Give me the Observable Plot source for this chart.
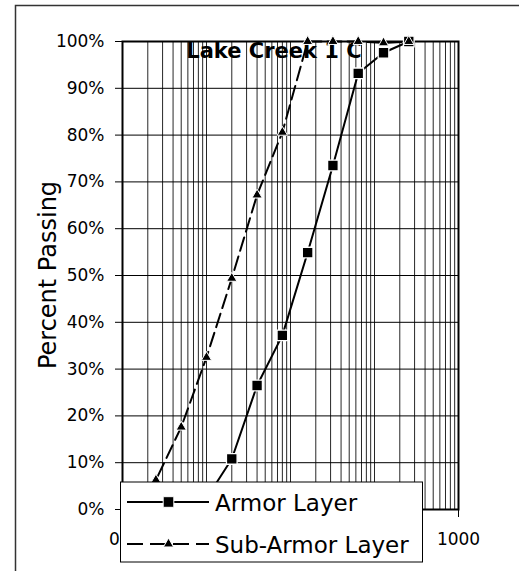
<!DOCTYPE html>
<html><head><meta charset="utf-8">
<script src="https://cdn.jsdelivr.net/npm/d3@7"></script>
<script src="https://cdn.jsdelivr.net/npm/@observablehq/plot@0.6"></script>
<style>html,body{margin:0;padding:0;background:#fff;} #chart{position:relative;width:519px;height:571px;}</style>
</head><body><div id="chart"></div>
<script>
const title = "Lake Creek 1 C";
const yLabel = "Percent Passing";
const seriesNames = ["Armor Layer", "Sub-Armor Layer"];
const armorSize = [1, 2, 4, 8, 16, 32, 64, 128, 256];
const armorPassing = [2.4, 10.8, 26.5, 37.2, 54.9, 73.5, 93.2, 97.6, 100];
const subSize = [0.125, 0.25, 0.5, 1, 2, 4, 8, 16, 32, 64, 128, 256];
const subPassing = [1, 6.3, 17.6, 32.5, 49.4, 67.2, 80.6, 100, 100, 100, 99.7, 100];
const xTickValues = [0.1, 1, 10, 100, 1000];
const xTickLabels = ["0.1", "", "", "", "1000"]; // 1, 10, 100 sit behind the legend box
const yTickValues = [0, 10, 20, 30, 40, 50, 60, 70, 80, 90, 100];

const armor = armorSize.map((s, i) => ({size: s, pct: armorPassing[i]}));
const sub = subSize.map((s, i) => ({size: s, pct: subPassing[i]}));
const xGrid = d3.scaleLog().domain([0.1, 1000]).ticks();

const plot = Plot.plot({
  width: 519, height: 571,
  marginLeft: 122, marginRight: 61, marginTop: 41, marginBottom: 62,
  style: {fontFamily: "DejaVu Sans", fontSize: "17px", background: "white", color: "black"},
  x: {type: "log", domain: [0.1, 1000]},
  y: {domain: [0, 100]},
  marks: [
    Plot.gridX(xGrid, {stroke: "#000", strokeOpacity: 0.85, strokeWidth: 1}),
    Plot.gridY(yTickValues, {stroke: "#000", strokeOpacity: 1, strokeWidth: 1}),
    Plot.frame({stroke: "#000", strokeWidth: 2}),
    Plot.axisY({ticks: yTickValues, tickSize: 7, tickPadding: 11, tickFormat: d => d + "%", label: null, fontSize: 17}),
    Plot.axisX({ticks: xTickValues, tickSize: 8, tickPadding: 15, tickFormat: (d, i) => xTickLabels[xTickValues.indexOf(d)], label: null, fontSize: 17}),
    Plot.text([title], {frameAnchor: "top", dx: -16.5, dy: 16, lineAnchor: "bottom", fontWeight: "bold", fontSize: 21, fontFamily: "DejaVu Sans", fill: "#000"}),
    Plot.line(armor, {x: "size", y: "pct", stroke: "#000", strokeWidth: 2}),
    Plot.line(sub, {x: "size", y: "pct", stroke: "#000", strokeWidth: 2, strokeDasharray: "14,6"}),
    Plot.dot(armor, {x: "size", y: "pct", symbol: "square", r: 6, fill: "#000", stroke: "#fff", strokeWidth: 1.3}),
    Plot.dot(sub, {x: "size", y: "pct", symbol: "triangle", r: 3.8, fill: "#000", stroke: "#fff", strokeWidth: 1})
  ]
});
document.getElementById("chart").appendChild(plot);

const svg = d3.select(plot);
// outer chart-area border
svg.append("path").attr("d", "M15.5,571V5.5H519").attr("fill", "none").attr("stroke", "#333").attr("stroke-width", 1.5);
// y-axis title
svg.append("text").attr("transform", "translate(48,275) rotate(-90)")
  .attr("text-anchor", "middle").attr("dominant-baseline", "central")
  .attr("font-family", "DejaVu Sans").attr("font-size", 24).attr("fill", "#000").text(yLabel);
// legend
const lg = svg.append("g");
lg.append("rect").attr("x", 120.5).attr("y", 482).attr("width", 302).attr("height", 80)
  .attr("fill", "white").attr("stroke", "#000").attr("stroke-width", 1);
const rows = [
  {y: 502, dash: null, sym: d3.symbolSquare, size: Math.PI * 36, name: seriesNames[0]},
  {y: 544, dash: "16,7", sym: d3.symbolTriangle, size: Math.PI * 3.8 * 3.8, name: seriesNames[1]}
];
rows.forEach(r => {
  const ln = lg.append("line").attr("x1", 127).attr("x2", 209).attr("y1", r.y).attr("y2", r.y)
    .attr("stroke", "#000").attr("stroke-width", 2);
  if (r.dash) ln.attr("stroke-dasharray", r.dash);
  lg.append("path").attr("d", d3.symbol(r.sym, r.size)()).attr("transform", `translate(168.5,${r.y})`)
    .attr("fill", "#000").attr("stroke", "#fff").attr("stroke-width", 1);
  lg.append("text").attr("x", 215).attr("y", r.y + 9).attr("text-anchor", "start").attr("font-family", "DejaVu Sans")
    .attr("font-size", 23).attr("fill", "#000").text(r.name);
});
</script>
</body></html>
